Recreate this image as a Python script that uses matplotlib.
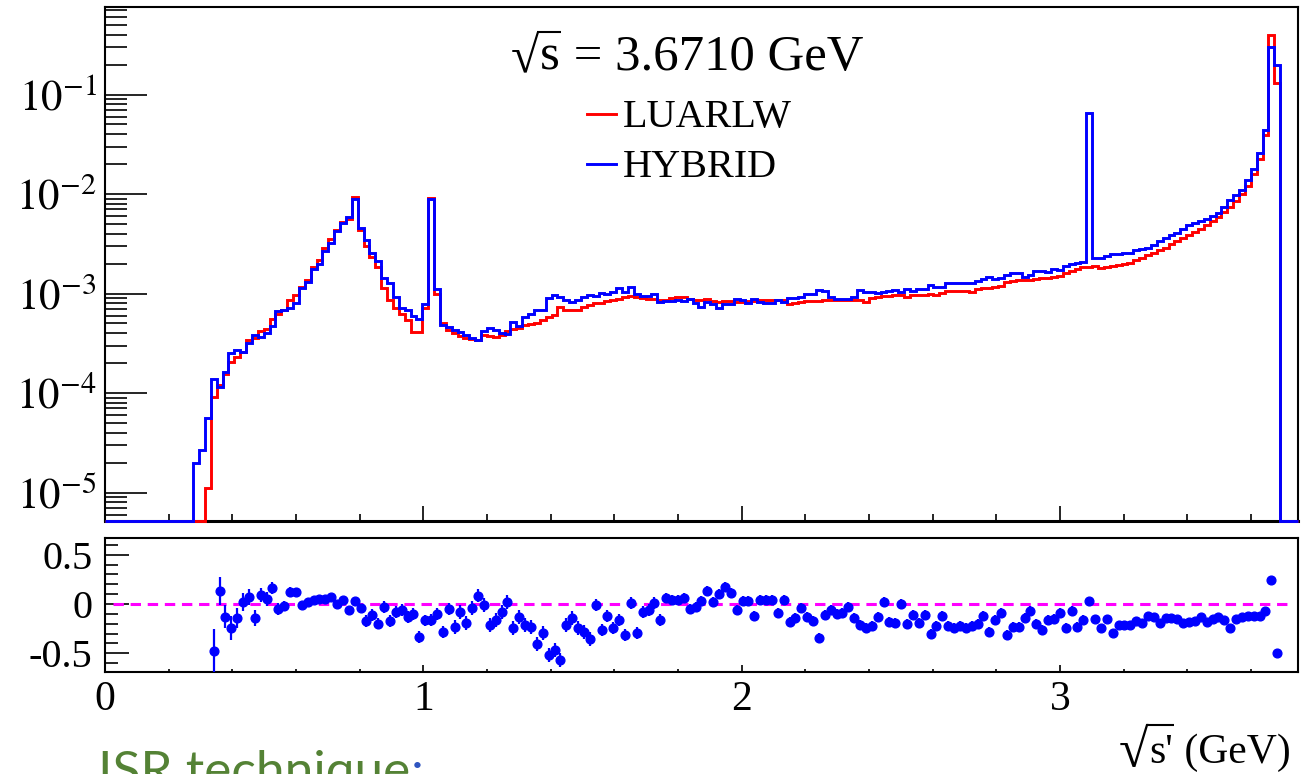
import numpy as np
import matplotlib
matplotlib.use("Agg")
import matplotlib.pyplot as plt
from matplotlib.lines import Line2D
from matplotlib.textpath import TextPath
from matplotlib.font_manager import FontProperties
from matplotlib.ticker import FixedLocator, LogLocator, MultipleLocator, NullFormatter

plt.rcParams["font.family"] = ["Liberation Serif", "DejaVu Serif"]
plt.rcParams["mathtext.fontset"] = "stix"

# ---------------- DATA ----------------
# 200 bins from 0 to 3.692 GeV, contents per bin (empty bins left out)
bin_width = 3.692 / 200
n_bins_drawn = 203          # axis runs a bit past the last filled bin

hybrid_first_bin = 15
hybrid = [
    2.0e-5, 2.7e-5, 5.6e-5, 1.40e-4, 1.16e-4, 1.64e-4, 2.55e-4, 2.70e-4, 2.60e-4, 3.16e-4,
    3.80e-4, 3.70e-4, 4.00e-4, 4.75e-4, 6.60e-4, 6.80e-4, 7.20e-4, 8.10e-4, 1.15e-3, 1.32e-3,
    1.75e-3, 1.98e-3, 2.70e-3, 3.24e-3, 4.25e-3, 5.07e-3, 5.90e-3, 8.85e-3, 4.60e-3, 3.45e-3,
    2.58e-3, 2.10e-3, 1.42e-3, 1.29e-3, 9.30e-4, 7.20e-4, 6.80e-4, 5.90e-4, 5.60e-4, 7.80e-4,
    8.90e-3, 1.10e-3, 4.83e-4, 4.65e-4, 4.30e-4, 4.14e-4, 3.83e-4, 3.55e-4, 3.41e-4, 4.20e-4,
    4.47e-4, 4.30e-4, 4.05e-4, 3.92e-4, 5.20e-4, 4.75e-4, 5.86e-4, 6.30e-4, 6.80e-4, 6.80e-4,
    8.95e-4, 9.70e-4, 9.20e-4, 8.60e-4, 8.30e-4, 8.60e-4, 9.20e-4, 9.70e-4, 9.45e-4, 1.02e-3,
    1.00e-3, 1.03e-3, 1.15e-3, 1.03e-3, 1.17e-3, 1.00e-3, 9.45e-4, 9.45e-4, 9.80e-4, 8.30e-4,
    8.50e-4, 8.50e-4, 8.60e-4, 8.50e-4, 8.75e-4, 8.00e-4, 7.40e-4, 8.30e-4, 7.90e-4, 7.10e-4,
    7.80e-4, 7.80e-4, 8.73e-4, 8.60e-4, 8.10e-4, 8.73e-4, 8.30e-4, 8.10e-4, 8.10e-4, 8.60e-4,
    8.30e-4, 8.95e-4, 8.95e-4, 9.30e-4, 9.80e-4, 9.80e-4, 1.08e-3, 1.07e-3, 9.30e-4, 8.73e-4,
    8.73e-4, 8.73e-4, 9.30e-4, 1.08e-3, 1.04e-3, 1.04e-3, 1.02e-3, 1.04e-3, 1.06e-3, 1.08e-3,
    1.04e-3, 1.10e-3, 1.07e-3, 1.10e-3, 1.10e-3, 1.21e-3, 1.16e-3, 1.17e-3, 1.28e-3, 1.28e-3,
    1.28e-3, 1.27e-3, 1.28e-3, 1.35e-3, 1.39e-3, 1.48e-3, 1.39e-3, 1.42e-3, 1.55e-3, 1.62e-3,
    1.62e-3, 1.48e-3, 1.53e-3, 1.69e-3, 1.69e-3, 1.66e-3, 1.75e-3, 1.72e-3, 1.89e-3, 1.96e-3,
    2.04e-3, 2.09e-3, 6.47e-2, 2.29e-3, 2.30e-3, 2.38e-3, 2.48e-3, 2.48e-3, 2.58e-3, 2.58e-3,
    2.72e-3, 2.78e-3, 2.85e-3, 3.08e-3, 3.40e-3, 3.59e-3, 3.88e-3, 4.10e-3, 4.50e-3, 4.90e-3,
    5.15e-3, 5.30e-3, 5.57e-3, 6.00e-3, 6.50e-3, 7.46e-3, 8.70e-3, 9.80e-3, 1.10e-2, 1.38e-2,
    1.77e-2, 2.60e-2, 4.40e-2, 0.303, 0.198,
]

luarlw_first_bin = 17
luarlw = [
    1.1e-5, 9.2e-5, 1.20e-4, 1.55e-4, 2.06e-4, 2.30e-4, 2.60e-4, 3.40e-4, 3.55e-4, 4.20e-4,
    4.40e-4, 5.60e-4, 6.30e-4, 6.80e-4, 8.60e-4, 9.70e-4, 1.17e-3, 1.37e-3, 1.83e-3, 2.17e-3,
    2.85e-3, 3.50e-3, 4.35e-3, 5.27e-3, 5.56e-3, 9.30e-3, 4.35e-3, 3.00e-3, 2.31e-3, 1.83e-3,
    1.15e-3, 8.60e-4, 7.10e-4, 6.30e-4, 5.40e-4, 4.10e-4, 4.10e-4, 7.10e-4, 9.06e-3, 1.00e-3,
    5.00e-4, 4.30e-4, 3.98e-4, 3.74e-4, 3.55e-4, 3.47e-4, 3.41e-4, 3.83e-4, 3.74e-4, 3.68e-4,
    3.83e-4, 4.23e-4, 4.37e-4, 4.47e-4, 4.83e-4, 4.94e-4, 5.10e-4, 5.40e-4, 5.76e-4, 6.10e-4,
    7.26e-4, 6.90e-4, 6.80e-4, 6.90e-4, 7.26e-4, 7.67e-4, 7.96e-4, 8.10e-4, 8.34e-4, 8.60e-4,
    8.87e-4, 9.15e-4, 9.45e-4, 9.30e-4, 9.00e-4, 8.87e-4, 8.75e-4, 8.60e-4, 8.60e-4, 8.95e-4,
    9.30e-4, 9.15e-4, 8.75e-4, 8.60e-4, 8.60e-4, 8.80e-4, 8.50e-4, 8.30e-4, 8.40e-4, 8.40e-4,
    8.30e-4, 8.30e-4, 8.40e-4, 8.40e-4, 8.60e-4, 8.60e-4, 8.60e-4, 8.60e-4, 8.60e-4, 7.80e-4,
    8.10e-4, 8.30e-4, 8.50e-4, 8.50e-4, 8.50e-4, 8.60e-4, 8.60e-4, 8.60e-4, 8.60e-4, 8.60e-4,
    8.60e-4, 8.60e-4, 8.30e-4, 8.95e-4, 9.30e-4, 9.45e-4, 9.45e-4, 9.60e-4, 9.60e-4, 9.30e-4,
    9.60e-4, 9.60e-4, 9.60e-4, 9.90e-4, 9.60e-4, 1.02e-3, 1.07e-3, 1.07e-3, 1.07e-3, 1.07e-3,
    1.04e-3, 1.10e-3, 1.13e-3, 1.15e-3, 1.17e-3, 1.19e-3, 1.30e-3, 1.35e-3, 1.38e-3, 1.38e-3,
    1.37e-3, 1.39e-3, 1.42e-3, 1.42e-3, 1.48e-3, 1.50e-3, 1.60e-3, 1.69e-3, 1.75e-3, 1.83e-3,
    1.86e-3, 1.89e-3, 1.79e-3, 1.86e-3, 1.89e-3, 1.93e-3, 1.98e-3, 2.04e-3, 2.17e-3, 2.30e-3,
    2.44e-3, 2.58e-3, 2.74e-3, 2.90e-3, 3.15e-3, 3.37e-3, 3.59e-3, 3.88e-3, 4.15e-3, 4.48e-3,
    4.88e-3, 5.36e-3, 5.92e-3, 6.58e-3, 7.46e-3, 8.57e-3, 1.00e-2, 1.20e-2, 1.58e-2, 2.23e-2,
    3.92e-2, 0.396, 0.13,
]

# relative difference per bin, with its error
ratio_first_bin = 18
ratio = [
    -0.473, 0.135, -0.128, -0.240, -0.145, 0.024, 0.074, -0.139, 0.091, 0.047,
    0.159, -0.054, -0.020, 0.125, 0.125, -0.005, 0.024, 0.038, 0.046, 0.049,
    0.071, 0.004, 0.038, -0.058, 0.027, -0.037, -0.172, -0.108, -0.198, -0.030,
    -0.172, -0.078, -0.058, -0.128, -0.103, -0.331, -0.167, -0.158, -0.103, -0.284,
    -0.050, -0.233, -0.084, -0.196, -0.044, 0.086, -0.010, -0.213, -0.162, -0.078,
    0.024, -0.246, -0.135, -0.213, -0.230, -0.405, -0.297, -0.517, -0.466, -0.570,
    -0.213, -0.145, -0.246, -0.280, -0.358, -0.010, -0.263, -0.122, -0.246, -0.162,
    -0.314, 0.007, -0.297, -0.078, -0.061, 0.007, -0.162, 0.059, 0.041, 0.041,
    0.057, -0.049, -0.027, 0.035, 0.135, 0.024, 0.105, 0.176, 0.115, -0.061,
    0.027, 0.027, -0.122, 0.041, 0.041, 0.041, -0.095, 0.041, -0.179, -0.145,
    -0.044, -0.128, -0.169, -0.348, -0.111, -0.061, -0.101, -0.095, -0.034, -0.145,
    -0.213, -0.246, -0.223, -0.135, 0.024, -0.179, -0.189, 0.000, -0.203, -0.111,
    -0.196, -0.111, -0.304, -0.223, -0.122, -0.223, -0.246, -0.223, -0.246, -0.223,
    -0.203, -0.122, -0.280, -0.162, -0.095, -0.314, -0.230, -0.236, -0.145, -0.068,
    -0.203, -0.263, -0.162, -0.155, -0.088, -0.246, -0.068, -0.236, -0.162, 0.027,
    -0.155, -0.246, -0.155, -0.297, -0.213, -0.213, -0.213, -0.169, -0.196, -0.118,
    -0.135, -0.196, -0.145, -0.145, -0.155, -0.196, -0.179, -0.169, -0.135, -0.179,
    -0.155, -0.128, -0.162, -0.246, -0.155, -0.128, -0.122, -0.122, -0.118, -0.071,
    0.243, -0.493,
]
ratio_err = [
    0.22, 0.14, 0.12, 0.12, 0.10, 0.09, 0.08, 0.08, 0.07, 0.07,
    0.06, 0.06, 0.05, 0.05, 0.04, 0.03, 0.03, 0.03, 0.03, 0.03,
    0.03, 0.03, 0.03, 0.03, 0.03, 0.03, 0.06, 0.06, 0.06, 0.06,
    0.06, 0.06, 0.06, 0.06, 0.06, 0.06, 0.06, 0.06, 0.06, 0.06,
    0.06, 0.07, 0.07, 0.07, 0.07, 0.07, 0.07, 0.07, 0.07, 0.07,
    0.07, 0.07, 0.07, 0.07, 0.07, 0.07, 0.07, 0.07, 0.07, 0.07,
    0.07, 0.07, 0.07, 0.07, 0.07, 0.06, 0.06, 0.06, 0.06, 0.06,
    0.06, 0.06, 0.06, 0.06, 0.06, 0.06, 0.06, 0.05, 0.05, 0.05,
    0.05, 0.05, 0.05, 0.05, 0.05, 0.05, 0.05, 0.05, 0.05, 0.05,
    0.05, 0.05, 0.05, 0.05, 0.05, 0.05, 0.05, 0.05, 0.05, 0.05,
    0.05, 0.05, 0.05, 0.05, 0.05, 0.05, 0.05, 0.05, 0.05, 0.05,
    0.05, 0.05, 0.05, 0.05, 0.05, 0.05, 0.05, 0.05, 0.05, 0.05,
    0.05, 0.05, 0.05, 0.05, 0.05, 0.05, 0.05, 0.05, 0.05, 0.05,
    0.05, 0.05, 0.05, 0.05, 0.05, 0.05, 0.05, 0.05, 0.05, 0.05,
    0.05, 0.05, 0.05, 0.05, 0.05, 0.05, 0.05, 0.05, 0.05, 0.02,
    0.04, 0.04, 0.04, 0.04, 0.04, 0.04, 0.04, 0.04, 0.04, 0.04,
    0.04, 0.04, 0.04, 0.02, 0.02, 0.02, 0.02, 0.02, 0.02, 0.02,
    0.02, 0.02, 0.02, 0.02, 0.02, 0.02, 0.02, 0.02, 0.02, 0.02,
    0.02, 0.02,
]

y_ticks_top = [1e-5, 1e-4, 1e-3, 1e-2, 1e-1]
y_labels_top = [r"$10^{-5}$", r"$10^{-4}$", r"$10^{-3}$", r"$10^{-2}$", r"$10^{-1}$"]
y_ticks_bot = [-0.5, 0.0, 0.5]
y_labels_bot = ["-0.5", "0", "0.5"]
x_ticks = [0, 1, 2, 3]
x_labels = ["0", "1", "2", "3"]

# ---------------- LAYOUT ----------------
W, H = 1304, 774
ymin_top, ymax_top = 5.18e-6, 0.7575
xmax = 3.748

fig = plt.figure(figsize=(W / 100, H / 100), dpi=100)
ax = fig.add_axes([105 / W, 1 - 521 / H, 1193 / W, 514 / H])
ax2 = fig.add_axes([105 / W, 1 - 672 / H, 1193 / W, 134 / H])
renderer = fig.canvas.get_renderer()

edges = bin_width * np.arange(n_bins_drawn + 1)


def full_hist(vals, first):
    # empty bins sit on the lower frame, like ROOT does on a log axis
    h = np.full(n_bins_drawn, ymin_top)
    h[first:first + len(vals)] = vals
    return h


# ink box of the radical glyph, per unit of font size
_rad = TextPath((0, 0), "\u221a", size=1,
                prop=FontProperties(family="Liberation Serif")).get_extents()


def root_sqrt(left_px, top_px, bottom_px, base_px, under, after, fs):
    # radical glyph sized to span top_px..bottom_px, a bar over `under`, then the rest
    size_px = (bottom_px - top_px) / _rad.height
    rad_base = bottom_px + _rad.y0 * size_px
    ox = left_px - _rad.x0 * size_px
    fig.text(ox / W, 1 - rad_base / H, "\u221a", fontsize=size_px * 0.72,
             va="baseline")
    x1 = ox + _rad.x1 * size_px
    body = fig.text((x1 + 1) / W, 1 - base_px / H, under, fontsize=fs, va="baseline")
    x2 = body.get_window_extent(renderer).x1
    fig.add_artist(Line2D([(x1 - 1.5) / W, (x2 + 1) / W], [1 - (top_px + 1) / H] * 2,
                          color="black", lw=1.5, solid_capstyle="butt"))
    fig.text((x2 + 1) / W, 1 - base_px / H, after, fontsize=fs, va="baseline")


ax.stairs(full_hist(luarlw, luarlw_first_bin), edges, baseline=None,
          color="#ff0000", lw=2.1, clip_on=False, zorder=3)
ax.stairs(full_hist(hybrid, hybrid_first_bin), edges, baseline=None,
          color="#0000ff", lw=2.1, clip_on=False, zorder=4)

ax.set_yscale("log")
ax.set_xlim(0, xmax)
ax.set_ylim(ymin_top, ymax_top)
ax.yaxis.set_major_locator(FixedLocator(y_ticks_top))
ax.set_yticklabels(y_labels_top)
ax.yaxis.set_minor_locator(LogLocator(base=10, subs=np.arange(2, 10), numticks=50))
ax.yaxis.set_minor_formatter(NullFormatter())
ax.xaxis.set_major_locator(MultipleLocator(1))
ax.xaxis.set_minor_locator(MultipleLocator(0.2))
ax.tick_params(axis="y", which="major", direction="in", length=30, width=1.2,
               labelsize=31, pad=6)
ax.tick_params(axis="y", which="minor", direction="in", length=16, width=1.2)
ax.tick_params(axis="x", which="major", direction="in", length=11, width=1.2,
               labelbottom=False)
ax.tick_params(axis="x", which="minor", direction="in", length=5, width=1.2)
for s in ax.spines.values():
    s.set_linewidth(1.5)
ax.spines["bottom"].set_linewidth(2.2)

# title and legend
root_sqrt(512, 31, 72, 70, "s", " = 3.6710 GeV", 36.5)
leg = [("LUARLW", "#ff0000", 0.7665), ("HYBRID", "#0000ff", 0.6693)]
for name, col, yb in leg:
    ax.plot([0.404, 0.428], [yb + 0.026, yb + 0.026], transform=ax.transAxes,
            color=col, lw=2.1)
    ax.text(0.4345, yb, name, transform=ax.transAxes, fontsize=29,
            ha="left", va="baseline")

# ---------------- RATIO PANEL ----------------
centers = (np.arange(ratio_first_bin, ratio_first_bin + len(ratio)) + 0.5) * bin_width
ax2.errorbar(centers, ratio, yerr=ratio_err, fmt="o", color="#0000ff", ms=6.3,
             elinewidth=1.6, capsize=0, zorder=3)
ax2.hlines(0, 0.025, 3.715, colors="#ff00ff", linestyles=(0, (3.4, 2.2)), lw=2.2,
           zorder=2)

ax2.set_xlim(0, xmax)
ax2.set_ylim(-0.689, 0.669)
ax2.set_yticks(y_ticks_bot, labels=y_labels_bot)
ax2.yaxis.set_minor_locator(MultipleLocator(0.1))
ax2.set_xticks(x_ticks, labels=x_labels)
ax2.xaxis.set_minor_locator(MultipleLocator(0.2))
ax2.tick_params(axis="y", which="major", direction="in", length=17, width=1.2,
                labelsize=29, pad=9)
ax2.tick_params(axis="y", which="minor", direction="in", length=9, width=1.2)
ax2.tick_params(axis="x", which="major", direction="in", length=5, width=1.2,
                labelsize=30, pad=6)
ax2.tick_params(axis="x", which="minor", direction="in", length=2.5, width=1.2)
for s in ax2.spines.values():
    s.set_linewidth(1.5)

root_sqrt(1120, 724, 767, 763, "s'", " (GeV)", 30)

# slide caption peeking in at the bottom
cap = fig.text(98 / W, 1 - 787 / H, "ISR technique", color="#548235",
               fontsize=37, family=["Lato", "DejaVu Sans"], ha="left", va="baseline")
bb = cap.get_window_extent(renderer)
fig.text((bb.x1 + 1) / W, 1 - 787 / H, ":", color="#2f55c0", fontsize=37,
         family=["Lato", "DejaVu Sans"], ha="left", va="baseline")

fig.savefig("out.png", dpi=100)
